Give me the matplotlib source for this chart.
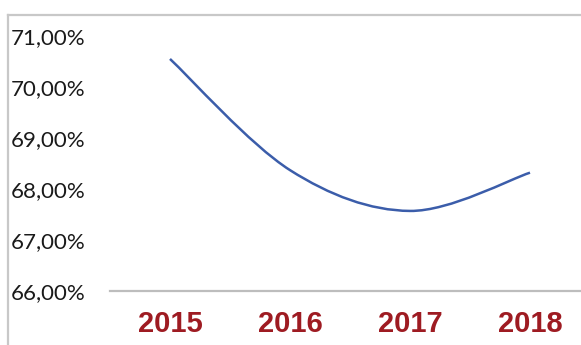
import matplotlib.pyplot as plt
import numpy as np
from matplotlib.path import Path
from matplotlib.patches import PathPatch
from matplotlib.lines import Line2D

# Data
years = ["2015", "2016", "2017", "2018"]
rates = [70.55, 68.37, 67.57, 68.32]
y_ticks = [66, 67, 68, 69, 70, 71]

fig = plt.figure(figsize=(5.81, 3.45), dpi=100)
W, H = 581, 345

# plot area in pixels: x 110..590, y 36..291 (top=71%, bottom=66%)
ax = fig.add_axes([110 / W, 1 - 291 / H, 480 / W, 255 / H])

x = np.arange(len(years))
ax.set_xlim(-0.5, len(years) - 0.5)
ax.set_ylim(66, 71)

# Excel-style smoothed line (Catmull-Rom to Bezier)
pts = np.column_stack([x, rates]).astype(float)
verts = [tuple(pts[0])]
codes = [Path.MOVETO]
for i in range(len(pts) - 1):
    p0 = pts[i - 1] if i > 0 else pts[i]
    p1 = pts[i]
    p2 = pts[i + 1]
    p3 = pts[i + 2] if i + 2 < len(pts) else pts[i + 1]
    c1 = p1 + (p2 - p0) / 6
    c2 = p2 - (p3 - p1) / 6
    verts += [tuple(c1), tuple(c2), tuple(p2)]
    codes += [Path.CURVE4] * 3
ax.add_patch(PathPatch(Path(verts, codes), facecolor="none",
                       edgecolor="#3B5DAA", lw=1.8, capstyle="butt"))

for s in ["top", "right", "left"]:
    ax.spines[s].set_visible(False)
ax.spines["bottom"].set_color("#BDBDBD")
ax.spines["bottom"].set_linewidth(1.6)

ax.set_xticks(x)
ax.set_xticklabels(years, fontfamily="Liberation Sans", fontweight="bold",
                   fontsize=21, color="#9E1B22")
ax.tick_params(axis="x", length=0, pad=14)

ax.set_yticks(y_ticks)
ax.set_yticklabels([f"{v},00%" for v in y_ticks], fontfamily="Lato",
                   fontsize=16, color="#1A1A1A")
ax.tick_params(axis="y", length=0, pad=18)

# chart frame (partly cropped)
frame_c = "#C8C8C8"
fig.add_artist(Line2D([8 / W, 1], [1 - 15 / H, 1 - 15 / H], color=frame_c, lw=1.6))
fig.add_artist(Line2D([8 / W, 8 / W], [0, 1 - 15 / H], color=frame_c, lw=1.6))

plt.savefig("out.png", dpi=100)
